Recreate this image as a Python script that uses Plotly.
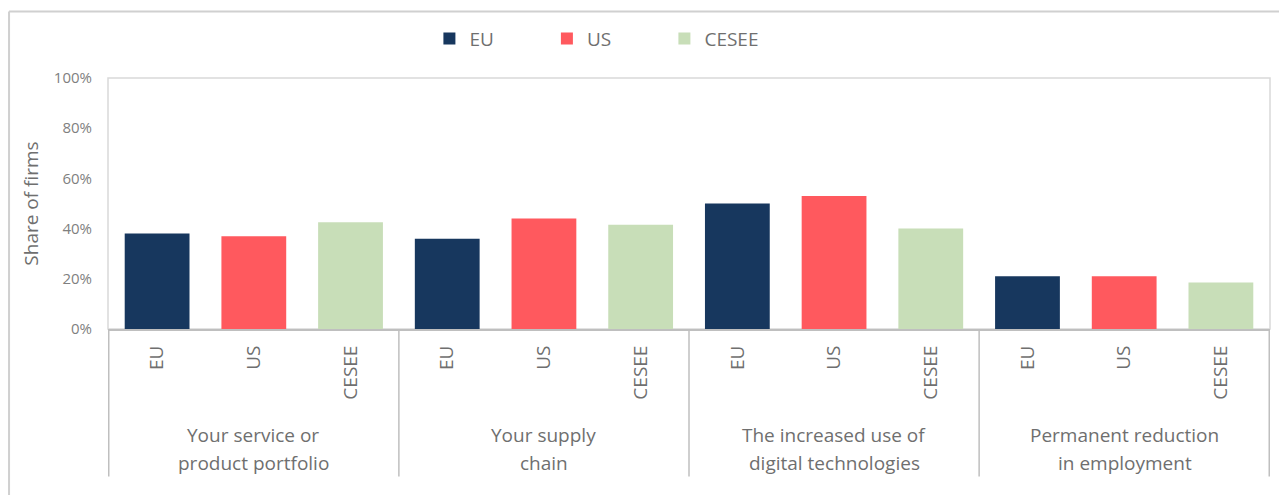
import plotly.graph_objects as go

groups = ["Your service or<br>product portfolio", "Your supply<br>chain",
          "The increased use of<br>digital technologies", "Permanent reduction<br>in employment"]
series = ["EU", "US", "CESEE"]
eu = [0.38, 0.36, 0.50, 0.21]
us = [0.37, 0.44, 0.53, 0.21]
cesee = [0.425, 0.415, 0.40, 0.185]
colors = {"EU": "#17375e", "US": "#ff595e", "CESEE": "#c8deb8"}
values = {"EU": eu, "US": us, "CESEE": cesee}

FONT = "Open Sans"
TXT = "#6f6f6f"

# one category slot per (group, series) pair, ordered group by group
cat_ids = [f"{gi}|{s}" for gi in range(len(groups)) for s in series]
cat_text = [s for gi in range(len(groups)) for s in series]

fig = go.Figure()
for s in series:
    fig.add_trace(go.Bar(
        name=s,
        x=[f"{gi}|{s}" for gi in range(len(groups))],
        y=values[s],
        marker=dict(color=colors[s], line=dict(width=0)),
    ))

# layout geometry (figure pixels)
L, R, T, B = 99.5, 25, 67.7, 173.7
plot_h = 495 - T - B

def py(px_below):
    """paper y for a point px_below pixels under the plot bottom"""
    return -px_below / plot_h

annotations = []
n_s = len(series)
for gi, g in enumerate(groups):
    xc = (gi + 0.5) / len(groups)
    for li, line in enumerate(g.split("<br>")):
        annotations.append(dict(
            x=xc, y=py(106.7 + 29 * li), xref="paper", yref="paper",
            text=line, showarrow=False, xanchor="center", yanchor="middle",
            font=dict(size=19, color=TXT, family=FONT),
        ))

shapes = [
    dict(type="rect", xref="paper", yref="paper", x0=0, x1=1, y0=0, y1=1,
         line=dict(color="#d9d9d9", width=1.5), layer="below"),
]
for k in range(len(groups) + 1):
    shapes.append(dict(type="line", xref="x", yref="paper",
                       x0=k * n_s - 0.5, x1=k * n_s - 0.5, y0=0, y1=py(149),
                       line=dict(color="#bfbfbf", width=1.5)))
# outer frame of the chart (left and top edges)
fx = -(L - 0.5) / 1162.5
fy = 1 + (T - 0.5) / plot_h
shapes.append(dict(type="line", xref="paper", yref="paper",
                   x0=fx, x1=fx, y0=py(200), y1=fy,
                   line=dict(color="#d0d0d0", width=2)))
shapes.append(dict(type="line", xref="paper", yref="paper",
                   x0=fx, x1=1 + R / 1162.5, y0=fy, y1=fy,
                   line=dict(color="#d0d0d0", width=2)))

fig.update_layout(
    width=1287, height=495,
    barmode="overlay",
    bargap=0.33,
    plot_bgcolor="white", paper_bgcolor="white",
    margin=dict(l=L, r=R, t=T, b=B),
    font=dict(family=FONT, color=TXT, size=19),
    showlegend=True,
    legend=dict(orientation="h", x=0.2766, xanchor="left", y=1 + (T - 28) / plot_h, yanchor="middle",
                font=dict(size=19, color=TXT), entrywidth=72.5, traceorder="normal"),
    xaxis=dict(
        type="category", categoryorder="array", categoryarray=cat_ids,
        tickmode="array", tickvals=cat_ids, ticktext=cat_text,
        tickangle=-90,
        showline=True, linecolor="#bfbfbf", linewidth=2,
        showgrid=False, ticks="", ticklabelstandoff=7,
        tickfont=dict(size=19, color=TXT, family=FONT),
        automargin=False,
    ),
    yaxis=dict(
        range=[0, 1], dtick=0.2, tickformat=".0%",
        showgrid=False, zeroline=False, showline=False,
        ticks="", ticklabelstandoff=15,
        tickfont=dict(size=15, color="#7f7f7f", family=FONT),
        title=dict(text="Share of firms", font=dict(size=19, color=TXT), standoff=10),
        automargin=False,
    ),
    annotations=annotations,
    shapes=shapes,
)

fig.write_html("out.html")
